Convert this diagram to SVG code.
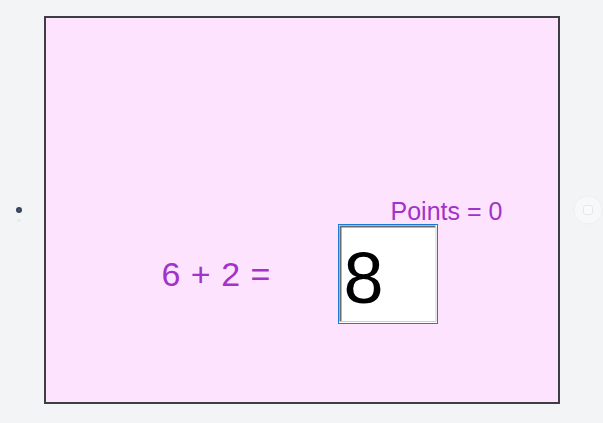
<svg xmlns="http://www.w3.org/2000/svg" width="603" height="423" viewBox="0 0 603 423">
<style>
.lbl{font-family:"Liberation Sans",Arial,sans-serif;fill:#a033c8}
.ans{font-family:"Liberation Sans",Arial,sans-serif;fill:#000}
</style>
<rect x="0" y="0" width="603" height="423" fill="#f3f4f6"/>
<g id="nav-left">
<circle cx="19" cy="210" r="3" fill="#3a434d"/>
<circle cx="19" cy="210" r="1.2" fill="#2a5aa0"/>
<circle cx="19" cy="220.5" r="1.8" fill="#e8e9ec"/>
</g>
<g id="nav-right">
<circle cx="588" cy="210" r="14" fill="#f7f8f9" stroke="#eeeff1" stroke-width="1"/>
<rect x="583.5" y="205.5" width="9" height="9" rx="2" fill="#fafafa" stroke="#e6e7ea" stroke-width="1"/>
</g>
<g id="card">
<rect x="45" y="17" width="514" height="386" fill="#fee3fe" stroke="#3d3d42" stroke-width="2"/>
</g>
<g id="points">
<text class="lbl" x="390.5" y="219.5" font-size="25">Points = 0</text>
</g>
<g id="question">
<text class="lbl" x="161.5" y="285.5" font-size="34" word-spacing="1">6 + 2 =</text>
</g>
<g id="answer">
<rect x="338.5" y="224.5" width="99" height="99" fill="#ffffff" stroke="#1a7ad8" stroke-width="1"/>
<path d="M340.5 321.5 V226.5 H435.5" fill="none" stroke="#6b6b6b" stroke-width="2"/>
<path d="M341 321.5 H436 V227" fill="none" stroke="#cfcfcf" stroke-width="1"/>
<text class="ans" x="343.5" y="303" font-size="72">8</text>
</g>
</svg>
